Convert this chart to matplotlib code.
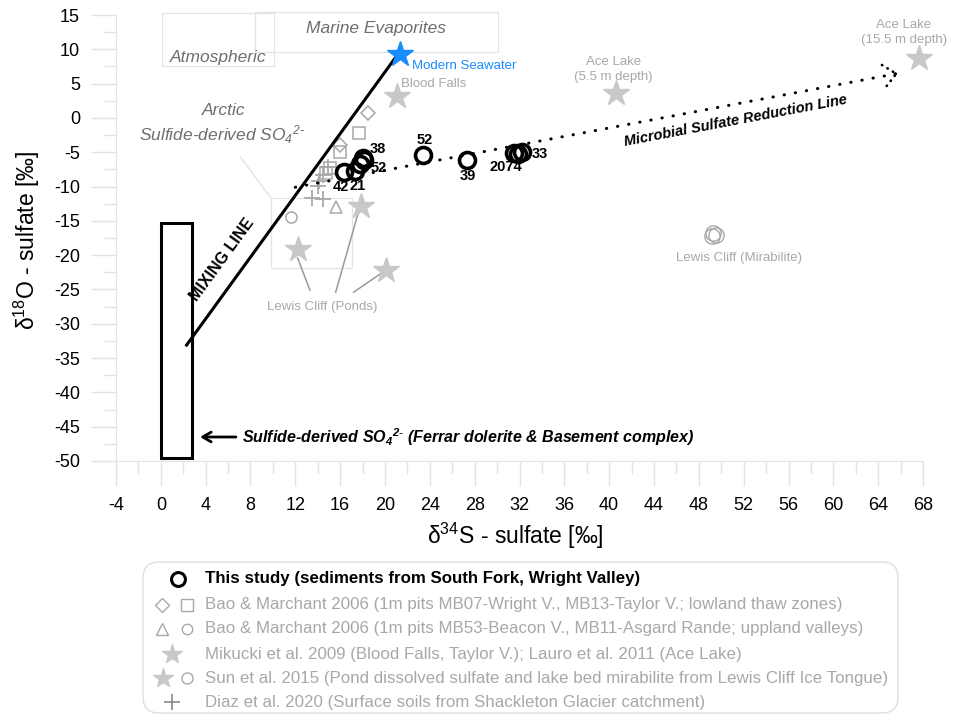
import matplotlib
matplotlib.use('Agg')
import matplotlib.pyplot as plt
from matplotlib.patches import Rectangle, FancyBboxPatch

plt.rcParams['font.family'] = ['Liberation Sans', 'DejaVu Sans']
plt.rcParams['mathtext.default'] = 'regular'
plt.rcParams['axes.unicode_minus'] = False

# this study (South Fork sediments)
study_s34 = [16.3, 17.3, 17.8, 18.0, 18.1, 23.4, 27.3, 31.5, 31.9, 32.2]
study_o18 = [-7.9, -7.7, -6.7, -5.9, -6.2, -5.4, -6.1, -5.1, -5.2, -5.0]
study_ids = ['42', '21', '52', '38', '', '52', '39', '2074', '', '33']

# Bao & Marchant 2006, lowland thaw zones
bao_low_dia_s34 = [18.5, 16.0]
bao_low_dia_o18 = [0.7, -4.0]
bao_low_sq_s34 = [17.7, 16.0, 15.1, 14.7]
bao_low_sq_o18 = [-2.2, -5.0, -7.3, -8.0]
# Bao & Marchant 2006, upland valleys
bao_up_tri_s34 = [15.6]
bao_up_tri_o18 = [-13.0]
bao_up_circ_s34 = [11.6]
bao_up_circ_o18 = [-14.4]

# Mikucki 2009 (Blood Falls), Lauro 2011 (Ace Lake)
mik_s34 = [21.1, 40.6, 67.6]
mik_o18 = [3.2, 3.6, 8.7]

# Sun 2015, Lewis Cliff ponds and mirabilite
sun_pond_s34 = [12.2, 17.9, 20.1]
sun_pond_o18 = [-19.1, -12.8, -22.2]
sun_mir_s34 = [49.3, 49.5, 49.2]
sun_mir_o18 = [-16.7, -17.0, -17.2]

# Diaz 2020, Shackleton Glacier soils
diaz_s34 = [14.95, 14.5, 14.1, 14.0, 13.5, 14.5]
diaz_o18 = [-7.2, -8.3, -9.2, -9.9, -11.7, -11.8]

seawater = (21.3, 9.3)
mixing_s34 = [2.3, 21.2]
mixing_o18 = [-33.1, 9.4]
msr_s34 = [12.0, 65.8]
msr_o18 = [-10.1, 6.5]

# source fields (x0, y0, width, height)
sulfide_box = (0.0, -49.5, 2.8, 34.2)
atmos_box = (0.1, 7.6, 10.0, 7.7)
evap_box = (8.4, 9.6, 21.7, 5.8)
arctic_box = (9.8, -21.9, 7.3, 10.2)

GRAY = '#a8a8a8'
STAR = '#c8c8c8'
LABEL = '#6e6e6e'
TICK = '#e3e3e3'

fig = plt.figure(figsize=(9.66, 7.23), dpi=100)
ax = fig.add_axes([116 / 966, 1 - 461 / 723, (923 - 116) / 966, (461 - 15) / 723])
ax.set_xlim(-4, 68)
ax.set_ylim(-50, 15)

for side in ['top', 'right']:
    ax.spines[side].set_visible(False)
for side in ['left', 'bottom']:
    ax.spines[side].set_color(TICK)
ax.set_xticks(range(-4, 69, 4))
ax.set_xticks(range(-4, 69, 2), minor=True)
ax.set_yticks(range(-50, 16, 5))
ax.set_yticks([v * 2.5 for v in range(-20, 7)], minor=True)
ax.tick_params(which='major', length=18, width=1, color=TICK, labelsize=13, pad=8)
ax.tick_params(which='minor', length=9, width=1, color=TICK)

fig.text(27 / 966, 1 - 240 / 723, 'δ$^{18}$O - sulfate [‰]', rotation=90,
         ha='center', va='center', fontsize=16.5)
fig.text(515 / 966, 1 - 536 / 723, 'δ$^{34}$S - sulfate [‰]',
         ha='center', va='center', fontsize=16.5)

# source boxes
for box in [atmos_box, evap_box, arctic_box]:
    ax.add_patch(Rectangle(box[:2], box[2], box[3], fill=False, ec='#e4e4e4',
                           lw=0.9, clip_on=False))
ax.add_patch(Rectangle(sulfide_box[:2], sulfide_box[2], sulfide_box[3], fill=False,
                       ec='black', lw=2.2, zorder=3))

ax.text(19.2, 13.1, 'Marine Evaporites', style='italic', color=LABEL, fontsize=12.5,
        ha='center', va='center')
ax.text(5.1, 8.8, 'Atmospheric', style='italic', color=LABEL, fontsize=12.5,
        ha='center', va='center')
ax.text(5.6, 1.1, 'Arctic', style='italic', color=LABEL, fontsize=12.5,
        ha='center', va='center')
ax.text(5.5, -2.4, r'Sulfide-derived SO$_4$$^{2\text{-}}$', style='italic', color=LABEL,
        fontsize=12.5, ha='center', va='center')
ax.plot([7.1, 9.8], [-5.7, -11.6], color='#e0e0e0', lw=0.9)

# mixing line
ax.plot(mixing_s34, mixing_o18, color='black', lw=2.2, zorder=3)
ax.text(5.5, -20.7, 'MIXING LINE', rotation=54, rotation_mode='anchor',
        ha='center', va='center', fontweight='bold', fontsize=11.5)

# microbial sulfate reduction line, dotted with a dotted arrow head
ax.plot(msr_s34, msr_o18, color='black', lw=2.2, ls=(0, (0.1, 3.6)),
        dash_capstyle='round', zorder=3)
ax.annotate('', xy=(msr_s34[1], msr_o18[1]),
            xytext=(msr_s34[1] - 0.3, msr_o18[1] - 0.09),
            arrowprops=dict(arrowstyle='->,head_length=0.9,head_width=0.8',
                            ls=(0, (0.1, 2.2)), lw=2.0, color='black',
                            capstyle='round', shrinkA=0, shrinkB=0))
ax.text(51.3, -0.4, 'Microbial Sulfate Reduction Line', rotation=10.8,
        ha='center', va='center', fontweight='bold', style='italic', fontsize=10.5)

# sulfide source arrow
ax.annotate('', xy=(3.5, -46.5), xytext=(6.7, -46.5),
            arrowprops=dict(arrowstyle='->,head_length=0.6,head_width=0.35',
                            lw=2, color='black', shrinkA=0, shrinkB=0))
ax.text(7.2, -46.5, r'Sulfide-derived SO$_4$$^{2\text{-}}$ (Ferrar dolerite & Basement complex)',
        fontweight='bold', style='italic', fontsize=11.5, va='center', ha='left')

# literature data
ax.plot(diaz_s34, diaz_o18, '+', color=GRAY, ms=11, mew=1.3, zorder=2)
ax.plot(bao_low_dia_s34, bao_low_dia_o18, 'D', mfc='white', mec=GRAY, ms=7, mew=1.1, zorder=2)
ax.plot(bao_low_sq_s34, bao_low_sq_o18, 's', mfc='none', mec=GRAY, ms=8, mew=1.1, zorder=2)
ax.plot(bao_up_tri_s34, bao_up_tri_o18, '^', mfc='none', mec=GRAY, ms=9, mew=1.1, zorder=2)
ax.plot(bao_up_circ_s34, bao_up_circ_o18, 'o', mfc='none', mec=GRAY, ms=8, mew=1.1, zorder=2)
ax.plot(mik_s34, mik_o18, '*', color=STAR, ms=19, zorder=2, clip_on=False)
ax.plot(sun_pond_s34, sun_pond_o18, '*', color=STAR, ms=19, zorder=2)
ax.plot(sun_mir_s34, sun_mir_o18, 'o', mfc='none', mec=GRAY, ms=11, mew=1.0, zorder=2)
ax.plot(*seawater, '*', color='#1a8cff', ms=19, zorder=4)

ax.text(22.4, 7.6, 'Modern Seawater', color='#1a8cff', fontsize=9.5, va='center')
ax.text(21.4, 4.9, 'Blood Falls', color=GRAY, fontsize=9.5, va='center')
ax.text(40.4, 7.1, 'Ace Lake\n(5.5 m depth)', color=GRAY, fontsize=9.5,
        ha='center', va='center', linespacing=1.3)
ax.text(66.3, 12.4, 'Ace Lake\n(15.5 m depth)', color=GRAY, fontsize=9.5,
        ha='center', va='center', linespacing=1.3, clip_on=False)
ax.text(51.6, -20.4, 'Lewis Cliff (Mirabilite)', color=GRAY, fontsize=9.5,
        ha='center', va='center')
ax.text(14.4, -27.6, 'Lewis Cliff (Ponds)', color=GRAY, fontsize=9.5,
        ha='center', va='center')
for sx, sy, tx, ty in [(12.2, -20.4, 13.3, -25.1), (17.6, -13.9, 15.6, -25.4),
                       (19.7, -22.6, 17.2, -25.4)]:
    ax.plot([tx, sx], [ty, sy], color='#999999', lw=1.1, zorder=1)

# this study
ax.plot(study_s34, study_o18, 'o', mfc='none', mec='black', ms=11.5, mew=2.6, zorder=5)
id_offsets = [(-2, -11), (2, -11), (13, -3), (11, 7), (0, 0), (1, 11), (1, -12),
              (-6, -10), (0, 0), (13, -1)]
for x, y, lab, off in zip(study_s34, study_o18, study_ids, id_offsets):
    if lab:
        ax.annotate(lab, (x, y), xytext=off, textcoords='offset points',
                    ha='center', va='center', fontweight='bold', fontsize=10.5, zorder=6)

# legend
lax = fig.add_axes([0, 0, 1, 1], zorder=-1)
lax.set_xlim(0, 966)
lax.set_ylim(723, 0)
lax.axis('off')
lax.add_patch(FancyBboxPatch((143, 562), 755, 151,
                             boxstyle='round,pad=0,rounding_size=16',
                             fc='white', ec='#dedede', lw=1))
rows = [579, 605, 629, 654, 678, 702]
entries = [
    'This study (sediments from South Fork, Wright Valley)',
    'Bao & Marchant 2006 (1m pits MB07-Wright V., MB13-Taylor V.; lowland thaw zones)',
    'Bao & Marchant 2006 (1m pits MB53-Beacon V., MB11-Asgard Rande; uppland valleys)',
    'Mikucki et al. 2009 (Blood Falls, Taylor V.); Lauro et al. 2011 (Ace Lake)',
    'Sun et al. 2015 (Pond dissolved sulfate and lake bed mirabilite from Lewis Cliff Ice Tongue)',
    'Diaz et al. 2020 (Surface soils from Shackleton Glacier catchment)',
]
for i, (ry, txt) in enumerate(zip(rows, entries)):
    lax.text(205, ry, txt, va='center', ha='left', fontsize=12.2,
             color='black' if i == 0 else GRAY,
             fontweight='bold' if i == 0 else 'normal')
lax.plot(178, rows[0], 'o', mfc='none', mec='black', ms=10, mew=2.2)
lax.plot(162, rows[1], 'D', mfc='none', mec=GRAY, ms=7, mew=1)
lax.plot(187, rows[1], 's', mfc='none', mec=GRAY, ms=8, mew=1)
lax.plot(162, rows[2], '^', mfc='none', mec=GRAY, ms=9, mew=1)
lax.plot(187, rows[2], 'o', mfc='none', mec=GRAY, ms=7.5, mew=1)
lax.plot(172, rows[3], '*', color=STAR, ms=15)
lax.plot(163, rows[4], '*', color=STAR, ms=15)
lax.plot(187, rows[4], 'o', mfc='none', mec=GRAY, ms=8, mew=1)
lax.plot(172, rows[5], '+', color='#888888', ms=12, mew=1.2)

fig.savefig('out.png', dpi=100)
